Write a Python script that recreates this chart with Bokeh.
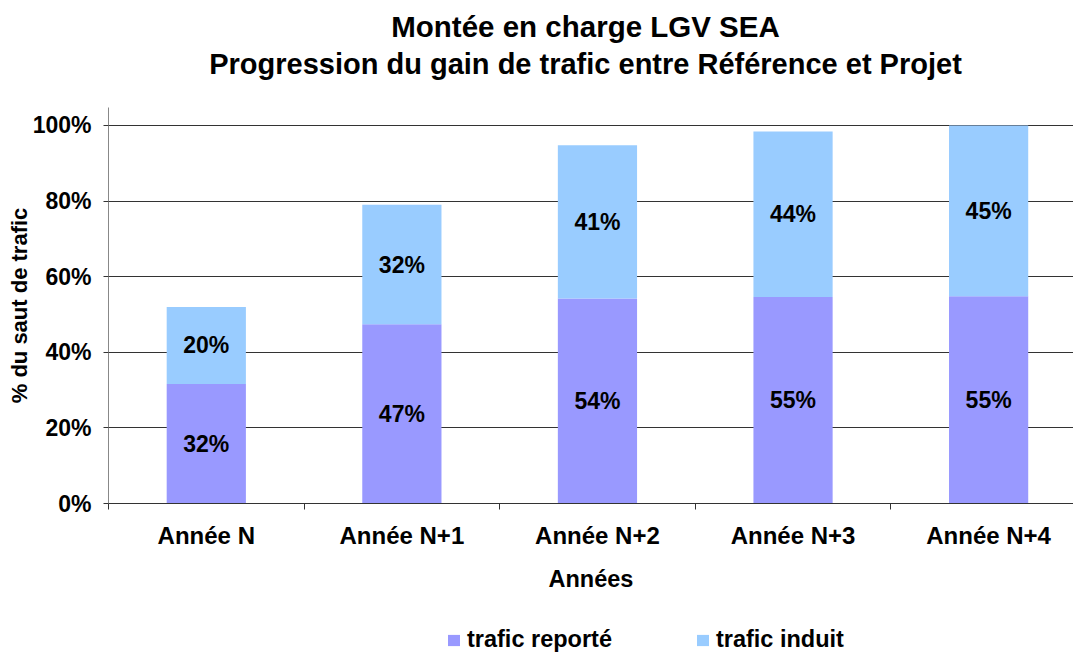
from bokeh.plotting import figure
from bokeh.layouts import column
from bokeh.models import ColumnDataSource, FixedTicker, PrintfTickFormatter, Legend, LegendItem, Range1d
from bokeh.core.properties import value
from bokeh.embed import file_html
from bokeh.resources import INLINE

categories = ["Année N", "Année N+1", "Année N+2", "Année N+3", "Année N+4"]
trafic_reporte = [31.6, 47.4, 54.2, 54.6, 54.8]
trafic_induit = [20.4, 31.6, 40.6, 43.8, 45.2]
series_names = ["trafic reporté", "trafic induit"]
colors = ["#9999FF", "#99CCFF"]
y_ticks = [0, 20, 40, 60, 80, 100]
title_lines = ["Montée en charge LGV SEA", "Progression du gain de trafic entre Référence et Projet"]

FONT = "Liberation Sans"
W = 1073
LEFT = 108


def blank_fig(height, y_start, y_end):
    f = figure(width=W, height=height, output_backend="svg", toolbar_location=None,
               x_range=Range1d(LEFT, W), y_range=Range1d(y_start, y_end),
               x_axis_location=None, y_axis_location=None,
               min_border_left=LEFT, min_border_right=0, min_border_top=0, min_border_bottom=0)
    f.outline_line_color = None
    f.grid.visible = False
    return f


# ---- title block ----
pt = blank_fig(107, 107, 0)
pt.text(x=[585], y=[26], text=title_lines[:1], text_align="center", text_baseline="middle",
        text_font=value(FONT), text_font_style="bold", text_font_size="29.5px", text_color="black")
pt.text(x=[585], y=[63], text=title_lines[1:], text_align="center", text_baseline="middle",
        text_font=value(FONT), text_font_style="bold", text_font_size="29px", text_color="black")

# ---- main chart ----
x = [i + 0.5 for i in range(len(categories))]
source = ColumnDataSource(dict(x=x, reporte=trafic_reporte, induit=trafic_induit))

p = figure(width=W, height=513, output_backend="svg", toolbar_location=None,
           x_range=Range1d(0, 4.934), y_range=Range1d(0, 104.76),
           min_border_left=LEFT, min_border_right=0, min_border_top=0, min_border_bottom=117)
p.outline_line_color = None

renderers = p.vbar_stack(["reporte", "induit"], x="x", width=0.405, color=colors,
                         line_color=None, source=source)

lab_x = x + x
lab_y = [r / 2 for r in trafic_reporte] + [r + i / 2 for r, i in zip(trafic_reporte, trafic_induit)]
lab_t = [f"{round(r)}%" for r in trafic_reporte] + [f"{round(i)}%" for i in trafic_induit]
p.text(x=lab_x, y=lab_y, text=lab_t, text_align="center", text_baseline="middle",
       text_font=value(FONT), text_font_style="bold", text_font_size="23px", text_color="black")

xa = p.xaxis[0]
xa.ticker = FixedTicker(ticks=x, minor_ticks=list(range(len(categories) + 1)))
xa.major_label_overrides = {xi: c for xi, c in zip(x, categories)}
xa.major_tick_out = 0
xa.major_tick_in = 0
xa.minor_tick_out = 6
xa.minor_tick_in = 0
xa.minor_tick_line_color = "#333333"
xa.axis_line_color = "#333333"
xa.major_label_standoff = 12
xa.major_label_text_font = FONT
xa.major_label_text_font_style = "bold"
xa.major_label_text_font_size = "24px"
xa.major_label_text_color = "black"
xa.axis_label = "Années"
xa.axis_label_text_font = FONT
xa.axis_label_text_font_style = "bold"
xa.axis_label_text_font_size = "23.5px"
xa.axis_label_text_color = "black"
xa.axis_label_standoff = 14

ya = p.yaxis[0]
ya.ticker = FixedTicker(ticks=y_ticks, minor_ticks=[])
ya.formatter = PrintfTickFormatter(format="%d%%")
ya.major_tick_out = 5
ya.major_tick_in = 0
ya.major_tick_line_color = "#333333"
ya.axis_line_color = "#888888"
ya.major_label_standoff = 12
ya.major_label_text_font = FONT
ya.major_label_text_font_style = "bold"
ya.major_label_text_font_size = "23px"
ya.major_label_text_color = "black"
ya.axis_label = "% du saut de trafic"
ya.axis_label_text_font = FONT
ya.axis_label_text_font_style = "bold"
ya.axis_label_text_font_size = "22px"
ya.axis_label_text_color = "black"
ya.axis_label_standoff = -2

p.xgrid.grid_line_color = None
p.ygrid.ticker = FixedTicker(ticks=y_ticks)
p.ygrid.grid_line_color = "#333333"
p.ygrid.grid_line_width = 1

# ---- legend block (swatches reuse the series; this strip's ranges keep the bars out of view) ----
pl = blank_fig(32, 1000, 1001)
legend_rs = pl.vbar_stack(["reporte", "induit"], x="x", width=0.405, color=colors,
                          line_color=None, source=source)
legend = Legend(items=[LegendItem(label=n, renderers=[r]) for n, r in zip(series_names, legend_rs)],
                orientation="horizontal", location=(446 - LEFT, -1), padding=0, margin=0,
                spacing=83, glyph_width=15, glyph_height=14, label_standoff=6,
                label_text_font=FONT, label_text_font_style="bold", label_text_font_size="23.5px",
                label_text_color="black", border_line_alpha=0, background_fill_alpha=0)
pl.add_layout(legend, "center")

layout = column(pt, p, pl, spacing=0)
open("out.html", "w").write(file_html(layout, INLINE))
